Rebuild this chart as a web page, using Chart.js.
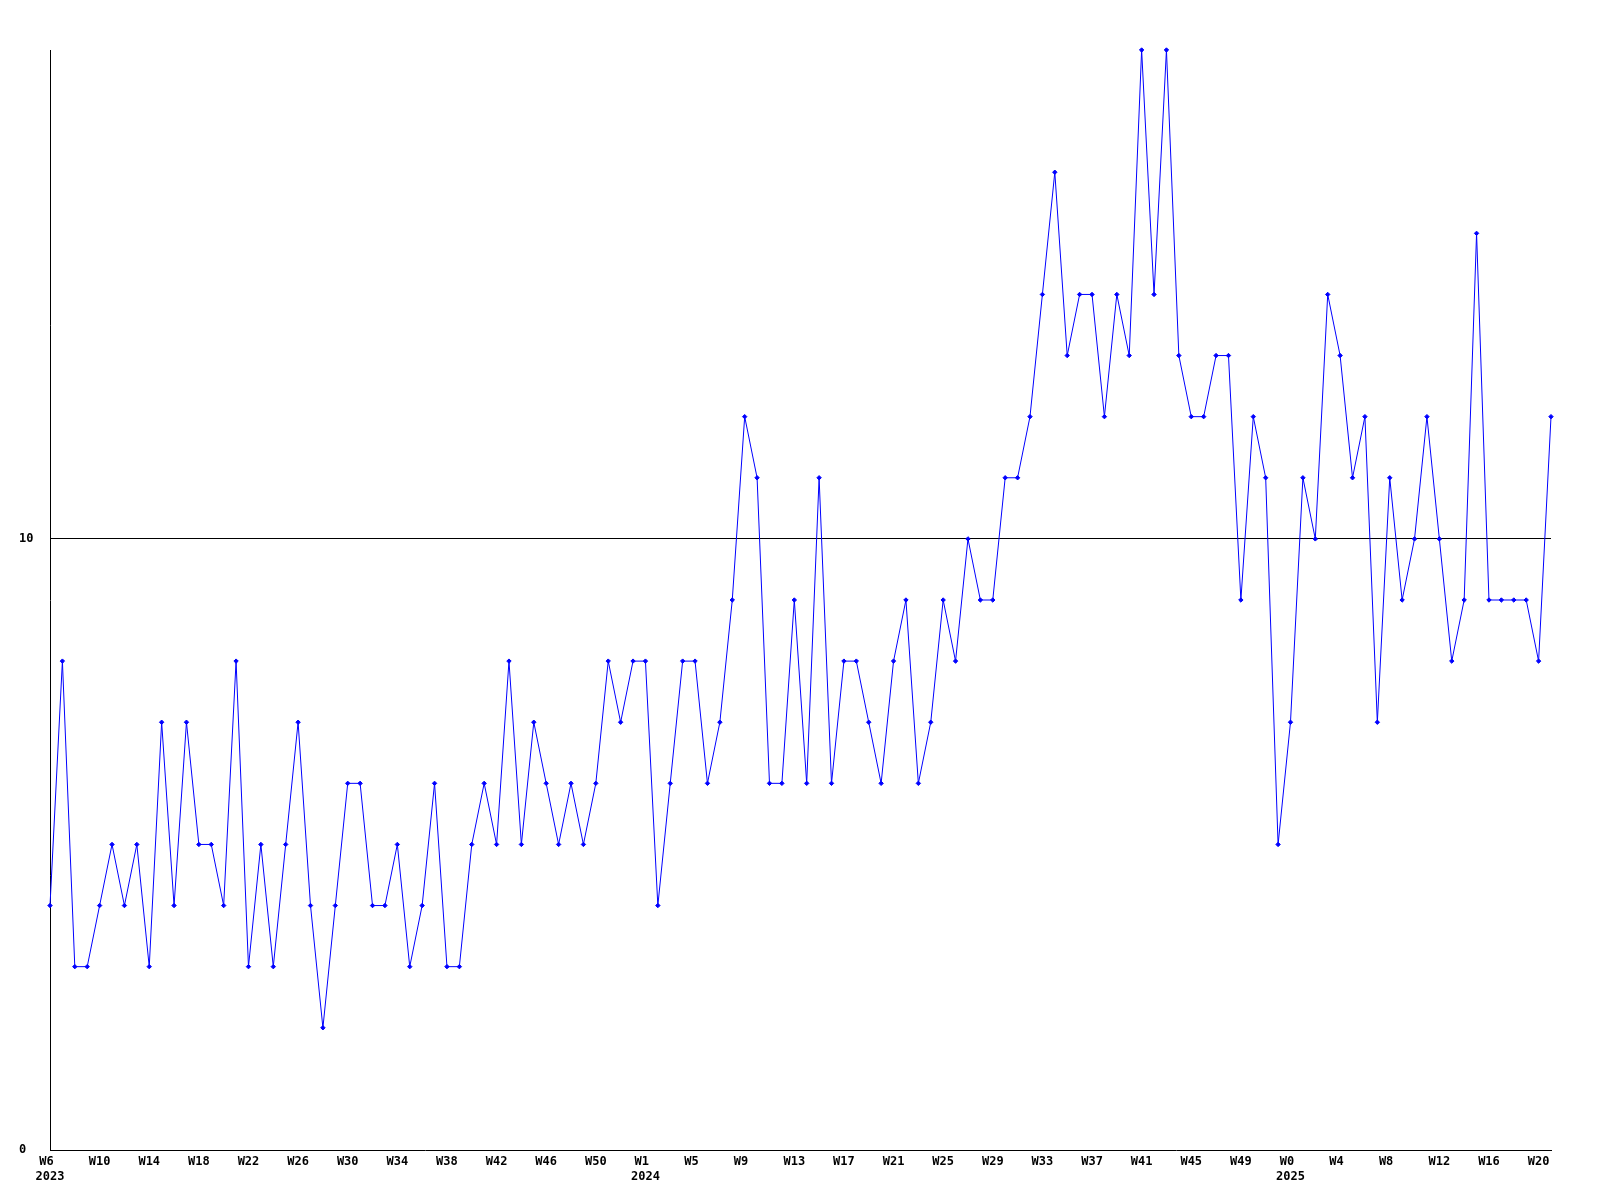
<!DOCTYPE html>
<html>
<head>
<meta charset="utf-8">
<script src="https://cdn.jsdelivr.net/npm/chart.js@4/dist/chart.umd.min.js"></script>
<style>
  html, body { margin: 0; padding: 0; background: #ffffff; }
  #wrap { position: relative; width: 1600px; height: 1200px; }
</style>
</head>
<body>
<div id="wrap"><canvas id="c"></canvas></div>
<script>
const weekLabels = [
  'W6','W7','W8','W9','W10','W11','W12','W13','W14','W15','W16','W17','W18','W19','W20','W21',
  'W22','W23','W24','W25','W26','W27','W28','W29','W30','W31','W32','W33','W34','W35','W36','W37',
  'W38','W39','W40','W41','W42','W43','W44','W45','W46','W47','W48','W49','W50','W51','W52','W53',
  'W1','W2','W3','W4','W5','W6','W7','W8','W9','W10','W11','W12','W13','W14','W15','W16',
  'W17','W18','W19','W20','W21','W22','W23','W24','W25','W26','W27','W28','W29','W30','W31','W32',
  'W33','W34','W35','W36','W37','W38','W39','W40','W41','W42','W43','W44','W45','W46','W47','W48',
  'W49','W50','W51','W52',
  'W0','W1','W2','W3','W4','W5','W6','W7','W8','W9','W10','W11','W12','W13','W14','W15',
  'W16','W17','W18','W19','W20','W21'
];
const yearTickIndex = [0, 48, 100];
const yearTickText = ['2023', '2024', '2025'];
const values = [
  4,8,3,3,4,5,4,5,3,7,
  4,7,5,5,4,8,3,5,3,5,
  7,4,2,4,6,6,4,4,5,3,
  4,6,3,3,5,6,5,8,5,7,
  6,5,6,5,6,8,7,8,8,4,
  6,8,8,6,7,9,12,11,6,6,
  9,6,11,6,8,8,7,6,8,9,
  6,7,9,8,10,9,9,11,11,12,
  14,16,13,14,14,12,14,13,18,14,
  18,13,12,12,13,13,9,12,11,5,
  7,11,10,14,13,11,12,7,11,9,
  10,12,10,8,9,15,9,9,9,9,
  8,12
];
const yTickValues = [0, 10];
const yMin = 0, yMax = 18;
const labelEvery = 4;

const tickFont = { family: "'DejaVu Sans Mono', monospace", size: 12, weight: 'bold', lineHeight: 1.2 };

function padLabel(s) { return s.length < 3 ? s + ' ' : s; }

new Chart(document.getElementById('c'), {
  type: 'line',
  data: {
    labels: weekLabels,
    datasets: [{
      data: values,
      borderColor: '#0000ff',
      backgroundColor: '#0000ff',
      borderWidth: 1,
      tension: 0,
      fill: false,
      pointStyle: 'rectRot',
      pointRadius: 2.2,
      pointBorderWidth: 1,
      pointBackgroundColor: '#0000ff',
      pointBorderColor: '#0000ff',
      clip: false
    }]
  },
  options: {
    responsive: true,
    maintainAspectRatio: false,
    animation: false,
    devicePixelRatio: 1,
    layout: { padding: { left: 19, right: 49, top: 50, bottom: 0 } },
    plugins: { legend: { display: false }, tooltip: { enabled: false }, title: { display: false } },
    scales: {
      x: {
        type: 'category',
        offset: false,
        grid: { display: true, drawOnChartArea: false, drawTicks: false, color: 'rgba(0,0,0,0)' },
        border: { display: true, color: '#000000', width: 1 },
        ticks: {
          autoSkip: false,
          maxRotation: 0,
          minRotation: 0,
          padding: 5,
          color: '#000000',
          font: tickFont,
          callback: function(value, index) {
            if (index % labelEvery !== 0) return '';
            const yi = yearTickIndex.indexOf(index);
            const w = padLabel(weekLabels[index]);
            if (yi >= 0) return [w, yearTickText[yi]];
            return w;
          }
        },
        afterFit: function(scale) { scale.height = 50; }
      },
      y: {
        min: yMin,
        max: yMax,
        afterBuildTicks: function(scale) { scale.ticks = yTickValues.map(v => ({ value: v })); },
        grid: {
          drawTicks: false,
          lineWidth: 1,
          color: function(ctx) { return (ctx.tick && ctx.tick.value === 10) ? '#000000' : 'rgba(0,0,0,0)'; }
        },
        border: { display: true, color: '#000000', width: 1 },
        ticks: {
          crossAlign: 'far',
          padding: 0,
          color: '#000000',
          font: tickFont
        },
        afterFit: function(scale) { scale.width = 31; }
      }
    }
  }
});
</script>
</body>
</html>
